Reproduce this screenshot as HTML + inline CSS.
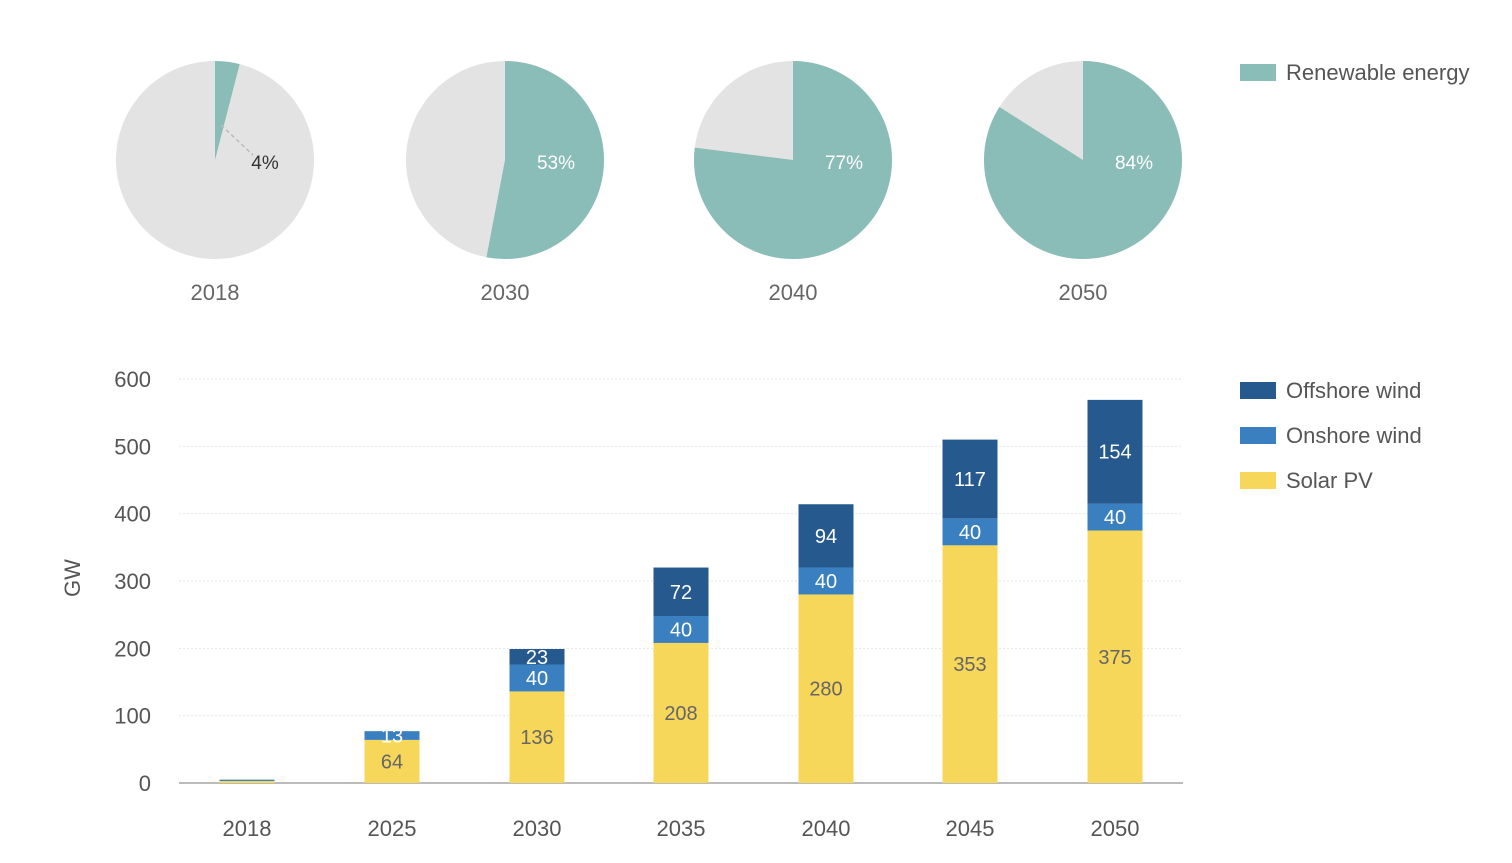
<!DOCTYPE html>
<html><head><meta charset="utf-8"><style>
body{margin:0;background:#fff;font-family:"Liberation Sans",sans-serif;}
svg text{font-family:"Liberation Sans",sans-serif;}
</style></head><body>
<svg id="c" width="1512" height="858"></svg>
<script>
const pieYears=["2018","2030","2040","2050"];
const pieShares=[4,53,77,84];
const years=["2018","2025","2030","2035","2040","2045","2050"];
const solar=[3,64,136,208,280,353,375];
const onshore=[2,13,40,40,40,40,40];
const offshore=[0,0,23,72,94,117,154];
const yTicks=[0,100,200,300,400,500,600];
const NS="http://www.w3.org/2000/svg";
const svg=document.getElementById('c');
function mk(t,a,txt){const e=document.createElementNS(NS,t);for(const k in a)e.setAttribute(k,a[k]);if(txt!==undefined)e.textContent=txt;svg.appendChild(e);return e;}
const TEAL="#8abdb8",GREY="#e3e3e3";
const pieX=[215,505,793,1083],pcy=160,R=99;
pieYears.forEach((y,i)=>{
  const cx=pieX[i],p=pieShares[i]/100;
  const c=mk('circle',{cx:cx,cy:pcy,r:R,fill:GREY});
  
  
  const a=p*2*Math.PI,ex=cx+R*Math.sin(a),ey=pcy-R*Math.cos(a);
  const s=mk('path',{d:`M${cx},${pcy} L${cx},${pcy-R} A${R},${R} 0 ${p>0.5?1:0} 1 ${ex},${ey} Z`,fill:TEAL});
  
  
  let lbl;
  if(p<0.1){
    mk('line',{x1:cx+6,y1:pcy-35,x2:cx+38,y2:pcy-5,stroke:"#bbb","stroke-dasharray":"4,3","stroke-width":1.5});
    lbl=mk('text',{x:cx+50,y:pcy+9,"text-anchor":"middle","font-size":19,fill:"#333"},pieShares[i]+"%");
  } else {
    lbl=mk('text',{x:cx+51,y:pcy+9,"text-anchor":"middle","font-size":19,fill:"#fff"},pieShares[i]+"%");
  }
  
  
  const yl=mk('text',{x:cx,y:300,"text-anchor":"middle","font-size":22,fill:"#666"},y);
  
  
});
let r=mk('rect',{x:1240,y:64,width:36,height:17,fill:TEAL});

let t=mk('text',{x:1286,y:80,"font-size":22,fill:"#555"},"Renewable energy");

const y0=783,pxPer=(783-379)/600;
const Y=v=>y0-v*pxPer;
const barX=[247,392,537,681,826,970,1115],bw=55;
yTicks.forEach(v=>{
  if(v>0){const g=mk('line',{x1:179,x2:1183,y1:Y(v),y2:Y(v),stroke:"#e6e6e6","stroke-dasharray":"2,2"});
  }
  const tl=mk('text',{x:151,y:Y(v)+8,"text-anchor":"end","font-size":22,fill:"#555"},v);
  
});
const ax=mk('line',{x1:179,x2:1183,y1:y0,y2:y0,stroke:"#bbb","stroke-width":2});

const yt=mk('text',{x:0,y:0,"font-size":22,fill:"#555","text-anchor":"middle",transform:"translate(80,578) rotate(-90)"},"GW");

const series=[["solar",solar,"#f7d75a","#666"],["onshore",onshore,"#3a80c0","#fff"],["offshore",offshore,"#265a8f","#fff"]];
years.forEach((yr,i)=>{
  let base=0;const x=barX[i]-bw/2;
  series.forEach(([nm,arr,col,tc])=>{
    const v=arr[i];if(v<=0)return;
    const b=mk('rect',{x:x,y:Y(base+v),width:bw,height:v*pxPer,fill:col});
    
    
    if(v>=10){
      const tl=mk('text',{x:barX[i],y:Y(base+v/2)+7,"text-anchor":"middle","font-size":20,fill:tc},v);
      
      
    }
    base+=v;
  });
  const xl=mk('text',{x:barX[i],y:836,"text-anchor":"middle","font-size":22,fill:"#555"},yr);
  
});
[["offshore","Offshore wind","#265a8f",382],["onshore","Onshore wind","#3a80c0",427],["solar","Solar PV","#f7d75a",472]].forEach(([k,n,c,y])=>{
  const s=mk('rect',{x:1240,y:y,width:36,height:17,fill:c});
  
  const tt=mk('text',{x:1286,y:y+16,"font-size":22,fill:"#555"},n);
  
});
</script>
</body></html>
